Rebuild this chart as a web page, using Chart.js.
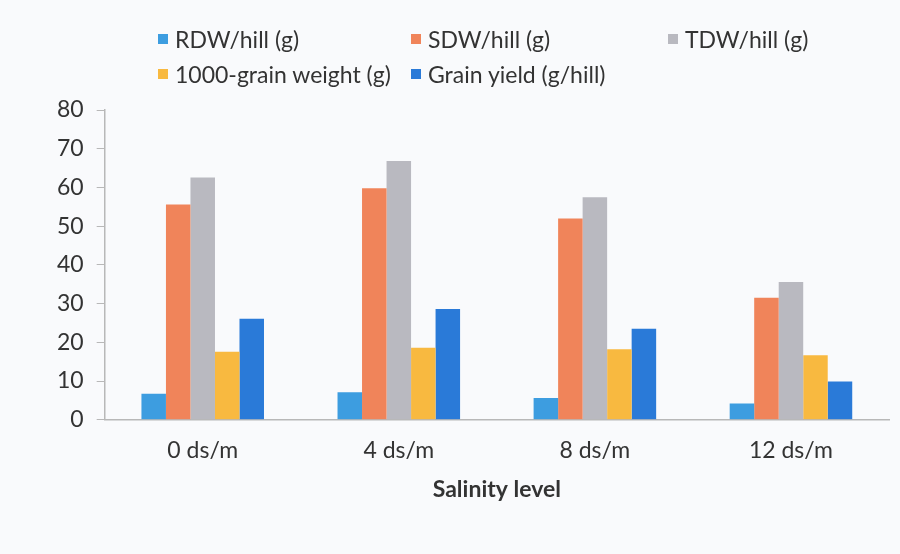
<!DOCTYPE html>
<html>
<head>
<meta charset="utf-8">
<script src="https://cdn.jsdelivr.net/npm/chart.js@4"></script>
<style>
  body { margin: 0; background: #f9fafc; }
  #wrap { position: relative; width: 900px; height: 554px; }
  #legend {
    position: absolute; left: 158px; top: 21px;
    display: grid; grid-template-columns: 253px 257px auto;
    grid-auto-rows: 35px;
    font-family: Lato, sans-serif; font-size: 23px; color: #333;
  }
  .item { display: flex; align-items: center; white-space: nowrap; }
  .box { width: 10px; height: 10px; margin-right: 7px; }
</style>
</head>
<body>
<div id="wrap">
  <canvas id="myChart" width="900" height="554"></canvas>
  <div id="legend"></div>
</div>
<script>
// salinity levels on the x axis
const categories = ['0 ds/m', '4 ds/m', '8 ds/m', '12 ds/m'];

// values
const rdw = [6.7, 7.1, 5.6, 4.2];
const sdw = [55.6, 59.8, 52.0, 31.5];
const tdw = [62.6, 66.8, 57.5, 35.6];
const grainWeight = [17.6, 18.6, 18.2, 16.7];
const grainYield = [26.1, 28.6, 23.5, 9.9];

const seriesNames = ['RDW/hill (g)', 'SDW/hill (g)', 'TDW/hill (g)', '1000-grain weight (g)', 'Grain yield (g/hill)'];
const seriesColors = ['#3d9de0', '#f0845a', '#b9b9c0', '#f8b940', '#2a7ad8'];
const yTicks = [0, 10, 20, 30, 40, 50, 60, 70, 80];

const seriesData = [rdw, sdw, tdw, grainWeight, grainYield];

const datasets = seriesNames.map((name, i) => ({
    label: name,
    data: seriesData[i],
    backgroundColor: seriesColors[i],
    borderWidth: 0
}));

// legend is laid out in columns like the original, so build it by hand
const legendEl = document.getElementById('legend');
seriesNames.forEach((name, i) => {
    const item = document.createElement('div');
    item.className = 'item';
    const box = document.createElement('span');
    box.className = 'box';
    box.style.background = seriesColors[i];
    const txt = document.createElement('span');
    txt.innerText = name;
    item.appendChild(box);
    item.appendChild(txt);
    legendEl.appendChild(item);
});

const tickFont = { family: 'Lato, sans-serif', size: 23 };

const ctx = document.getElementById('myChart').getContext('2d');
const myChart = new Chart(ctx, {
    type: 'bar',
    data: { labels: categories, datasets: datasets },
    options: {
        responsive: false,
        animation: false,
        layout: { padding: { top: 110, left: 44, right: 11, bottom: 47 } },
        datasets: { bar: { categoryPercentage: 0.625, barPercentage: 1 } },
        scales: {
            x: {
                grid: { display: false, drawTicks: false },
                border: { color: '#b8b8b8', width: 1.5 },
                ticks: { color: '#333', font: tickFont, padding: 17 },
                title: {
                    display: true,
                    text: 'Salinity level',
                    color: '#333',
                    font: { family: 'Lato, sans-serif', size: 23, weight: 'bold' },
                    padding: { top: -6 }
                }
            },
            y: {
                min: 0,
                max: 80,
                afterBuildTicks: axis => { axis.ticks = yTicks.map(v => ({ value: v })); },
                grid: { drawOnChartArea: false, tickLength: 8, color: '#b8b8b8' },
                border: { color: '#b8b8b8', width: 1.5 },
                ticks: { color: '#333', font: tickFont, padding: 13 }
            }
        },
        plugins: {
            legend: { display: false },
            tooltip: { enabled: false }
        }
    }
});
</script>
</body>
</html>
